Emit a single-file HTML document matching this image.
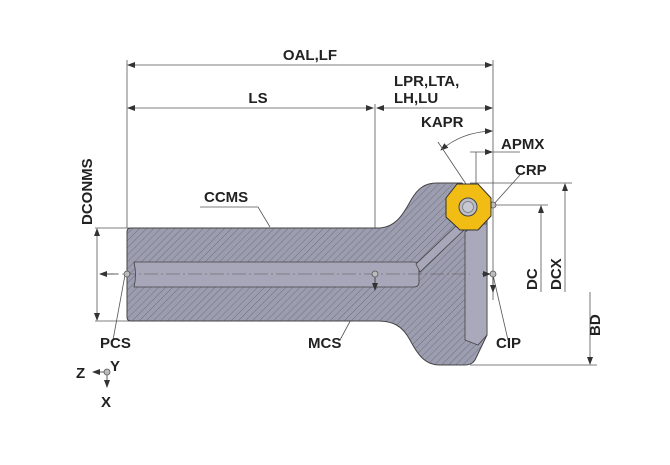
<!DOCTYPE html>
<html><head><meta charset="utf-8"><style>
html,body{margin:0;padding:0;background:#fff;}
svg text{font-family:"Liberation Sans",Arial,sans-serif;font-weight:bold;font-size:15px;fill:#222;}
</style></head><body>
<svg width="670" height="460" viewBox="0 0 670 460" xmlns="http://www.w3.org/2000/svg">
<defs>
<pattern id="h" width="5" height="5" patternUnits="userSpaceOnUse" patternTransform="rotate(45)">
<rect width="5" height="5" fill="#9d9db0"/>
<line x1="0" y1="0" x2="0" y2="5" stroke="#6f6f83" stroke-width="1"/>
</pattern>
<marker id="a" markerWidth="8" markerHeight="6" refX="7" refY="3" orient="auto-start-reverse" markerUnits="userSpaceOnUse">
<path d="M0,0 L8,3 L0,6 Z" fill="#333"/></marker>
</defs>
<g stroke="#555" stroke-width="0.8" fill="none">
<line x1="127" y1="60" x2="127" y2="228"/>
<line x1="493" y1="60" x2="493" y2="300"/>
<line x1="375" y1="104" x2="375" y2="228"/>
<line x1="95" y1="228" x2="130" y2="228"/>
<line x1="95" y1="321" x2="130" y2="321"/>
<line x1="470" y1="183" x2="572" y2="183"/>
<line x1="495" y1="205" x2="548" y2="205"/>
<line x1="470" y1="365" x2="597" y2="365"/>
<line x1="128" y1="65" x2="492" y2="65" marker-start="url(#a)" marker-end="url(#a)"/>
<line x1="128" y1="108" x2="373" y2="108" marker-start="url(#a)" marker-end="url(#a)"/>
<line x1="377" y1="108" x2="492" y2="108" marker-start="url(#a)" marker-end="url(#a)"/>
<line x1="97" y1="229" x2="97" y2="320" marker-start="url(#a)" marker-end="url(#a)"/>
<line x1="541" y1="206" x2="541" y2="292" marker-start="url(#a)"/>
<line x1="565" y1="184" x2="565" y2="292" marker-start="url(#a)"/>
<line x1="590" y1="292" x2="590" y2="364" marker-end="url(#a)"/>
<line x1="470" y1="152" x2="492" y2="152" marker-end="url(#a)"/>
<line x1="493" y1="152" x2="520" y2="152"/>
<line x1="476" y1="152" x2="476" y2="184"/>
<path d="M441,150 Q462,132 492,131" marker-start="url(#a)" marker-end="url(#a)"/>
<line x1="438" y1="142" x2="470" y2="190"/>
<polyline points="200,207 258,207 270,227"/>
<line x1="125" y1="275" x2="113" y2="340"/>
<line x1="375" y1="275" x2="340" y2="340"/>
<line x1="493" y1="275" x2="508" y2="340"/>
<line x1="493" y1="205" x2="520" y2="175"/>
</g>
<path d="M131,228 L378,228 C395,228 403,215 411,200 C418,188 425,183 437,183 L462,183 L487,205 L487,335 L475,360 Q472,365 465,365 L440,365 C425,365 418,355 410,340 C402,325 392,321 378,321 L131,321 Q127,321 127,317 L127,232 Q127,228 131,228 Z" fill="url(#h)" stroke="#444" stroke-width="1"/>
<path d="M465,232 L476,224 L487,224 L487,335 L478,345 L465,340 Z" fill="#a9a9bb" stroke="#444" stroke-width="0.8"/>
<path d="M134,262 L414,262 Q419,262 419,268 L419,282 Q419,287 414,287 L134,287 Q137,275 134,262 Z" fill="#a7a7b9" stroke="#444" stroke-width="0.8"/>
<path d="M416,264 L458,224 L464,230 L420,272 Z" fill="#a7a7b9" stroke="#444" stroke-width="0.8"/>
<line x1="100" y1="274" x2="470" y2="274" stroke="#555" stroke-width="0.6" stroke-dasharray="14,3,2,3"/>
<line x1="118" y1="274" x2="100" y2="274" stroke="#333" stroke-width="0.8" marker-end="url(#a)"/>
<line x1="375" y1="276" x2="375" y2="290" stroke="#333" stroke-width="0.8" marker-end="url(#a)"/>
<line x1="482" y1="274" x2="490" y2="274" stroke="#333" stroke-width="0.8" marker-end="url(#a)"/>
<line x1="493" y1="276" x2="493" y2="292" stroke="#333" stroke-width="0.8" marker-end="url(#a)"/>
<g fill="#bbb" stroke="#555" stroke-width="0.8">
<circle cx="127" cy="274" r="3"/><circle cx="375" cy="274" r="3"/><circle cx="493" cy="274" r="3"/><circle cx="493" cy="205" r="3"/><circle cx="107" cy="372" r="3"/>
</g>
<polygon points="457,184 478,184 491,198 491,216 478,230 460,230 446,217 446,198" fill="#f1bd14" stroke="#333" stroke-width="1"/>
<circle cx="468" cy="207" r="9" fill="#bdbdc8" stroke="#444" stroke-width="1"/>
<circle cx="468" cy="207" r="5.5" fill="#c8c8d2" stroke="#777" stroke-width="0.8"/>
<line x1="104" y1="372" x2="93" y2="372" stroke="#333" stroke-width="0.8" marker-end="url(#a)"/>
<line x1="107" y1="375" x2="107" y2="387" stroke="#333" stroke-width="0.8" marker-end="url(#a)"/>
<text x="310" y="60" text-anchor="middle">OAL,LF</text>
<text x="258" y="103" text-anchor="middle">LS</text>
<text x="394" y="86">LPR,LTA,</text>
<text x="394" y="103">LH,LU</text>
<text x="421" y="127">KAPR</text>
<text x="501" y="149">APMX</text>
<text x="515" y="175">CRP</text>
<text x="204" y="202">CCMS</text>
<text x="100" y="348">PCS</text>
<text x="308" y="348">MCS</text>
<text x="496" y="348">CIP</text>
<text x="76" y="378">Z</text>
<text x="110" y="371">Y</text>
<text x="101" y="407">X</text>
<text transform="translate(92,225) rotate(-90)">DCONMS</text>
<text transform="translate(537,290) rotate(-90)">DC</text>
<text transform="translate(561,290) rotate(-90)">DCX</text>
<text transform="translate(600,336) rotate(-90)">BD</text>
</svg>
</body></html>
